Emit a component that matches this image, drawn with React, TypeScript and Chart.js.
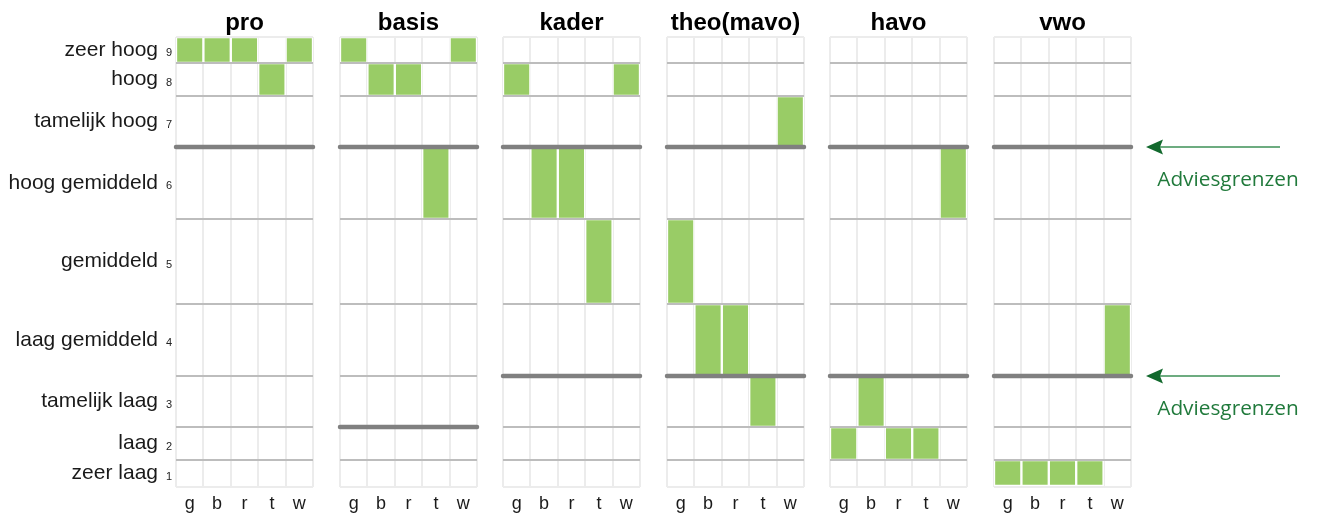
import React, { useEffect, useRef } from 'react';
import { Chart, registerables } from 'chart.js';

Chart.register(...registerables);

// ---------- data ----------
const categories = ['g', 'b', 'r', 't', 'w'];
const panelTitles = ['pro', 'basis', 'kader', 'theo(mavo)', 'havo', 'vwo'];
const levelNames = ['zeer laag', 'laag', 'tamelijk laag', 'laag gemiddeld', 'gemiddeld', 'hoog gemiddeld', 'tamelijk hoog', 'hoog', 'zeer hoog'];
const levelNumbers = ['1', '2', '3', '4', '5', '6', '7', '8', '9'];
// relative height of each level band (bottom to top)
const bandHeights = [27, 33, 51, 72, 85, 72, 51, 33, 26];

const proLevels = [9, 9, 9, 8, 9];
const basisLevels = [9, 8, 8, 6, 9];
const kaderLevels = [8, 6, 6, 5, 8];
const theoLevels = [5, 4, 4, 3, 7];
const havoLevels = [2, 3, 2, 2, 6];
const vwoLevels = [1, 1, 1, 1, 4];

// advice boundaries: boundary lies above the given level
const proAdvies = [6];
const basisAdvies = [2, 6];
const kaderAdvies = [3, 6];
const theoAdvies = [3, 6];
const havoAdvies = [3, 6];
const vwoAdvies = [3, 6];

const annotationLabel = 'Adviesgrenzen';

const panelLevels = [proLevels, basisLevels, kaderLevels, theoLevels, havoLevels, vwoLevels];
const panelAdvies = [proAdvies, basisAdvies, kaderAdvies, theoAdvies, havoAdvies, vwoAdvies];

// ---------- derived scale values ----------
const bounds: number[] = [0];
bandHeights.forEach((h, i) => bounds.push(bounds[i] + h));
const yMax = bounds[bounds.length - 1];
const mids = bandHeights.map((h, i) => bounds[i] + h / 2);
const gridTicks: number[] = [];
bounds.forEach((b, i) => {
  gridTicks.push(b);
  if (i < mids.length) gridTicks.push(mids[i]);
});

// ---------- style ----------
const FONT = '"Liberation Sans", Arial, Helvetica, sans-serif';
const GREEN = '#99cc66';
const H = 513;
const PANEL_W = 137;
const PANEL_STEP = 163.6;
const FIRST_LEFT = 176;

function geometry(i: number) {
  const panelLeft = Math.round(FIRST_LEFT + i * PANEL_STEP);
  if (i === 0) {
    return { left: 0, width: panelLeft + PANEL_W + 17, padL: 0, padR: 17 };
  }
  const left = panelLeft - 6;
  if (i === panelTitles.length - 1) {
    const width = 1322 - left;
    return { left, width, padL: 6, padR: width - 6 - PANEL_W };
  }
  return { left, width: PANEL_W + 12, padL: 6, padR: 6 };
}

const arrowPlugin = {
  id: 'adviesArrows',
  afterDraw(chart: any) {
    const { ctx, chartArea, scales } = chart;
    const ys = scales.y;
    vwoAdvies.forEach((k) => {
      const y = ys.getPixelForValue(bounds[k]);
      const tip = chartArea.right + 15;
      const end = chartArea.right + 149;
      ctx.save();
      ctx.strokeStyle = '#3d9156';
      ctx.lineWidth = 1.5;
      ctx.beginPath();
      ctx.moveTo(tip + 12, y);
      ctx.lineTo(end, y);
      ctx.stroke();
      ctx.fillStyle = '#12692d';
      ctx.beginPath();
      ctx.moveTo(tip, y);
      ctx.lineTo(tip + 17, y - 7.5);
      ctx.lineTo(tip + 14, y);
      ctx.lineTo(tip + 17, y + 7.5);
      ctx.closePath();
      ctx.fill();
      ctx.font = '20.8px "Open Sans", "Noto Sans", sans-serif';
      ctx.fillStyle = '#217a3c';
      ctx.textAlign = 'center';
      ctx.textBaseline = 'alphabetic';
      ctx.fillText(annotationLabel, chartArea.right + 97, y + 39);
      ctx.restore();
    });
  },
};

function buildConfig(i: number, geo: ReturnType<typeof geometry>): any {
  const levels = panelLevels[i];
  const advies = panelAdvies[i];
  const first = i === 0;
  const last = i === panelTitles.length - 1;

  const datasets: any[] = [
    {
      type: 'bar',
      data: levels.map((l) => [bounds[l - 1], bounds[l]]),
      backgroundColor: GREEN,
      borderColor: '#ffffff',
      borderWidth: 1.5,
      borderSkipped: false,
      barPercentage: 1,
      categoryPercentage: 1,
      grouped: false,
      xAxisID: 'x',
      yAxisID: 'y',
      order: 1,
    },
  ];
  advies.forEach((k) => {
    datasets.push({
      type: 'line',
      data: [
        { x: 0, y: bounds[k] },
        { x: 1, y: bounds[k] },
      ],
      xAxisID: 'xLine',
      yAxisID: 'y',
      borderColor: '#808080',
      borderWidth: 4.5,
      borderCapStyle: 'round',
      pointRadius: 0,
      clip: false,
      order: 0,
    });
  });

  const scales: any = {
    x: {
      type: 'category',
      position: 'bottom',
      offset: true,
      grid: { offset: true, color: '#ececec', lineWidth: 2, drawTicks: false, z: -1 },
      border: { display: false },
      ticks: { font: { family: FONT, size: 18 }, color: '#1a1a1a', padding: 6, autoSkip: false, maxRotation: 0 },
      afterFit: (s: any) => {
        s.height = 26;
      },
    },
    xTop: {
      type: 'linear',
      position: 'top',
      min: 0,
      max: 1,
      offset: false,
      ticks: { display: false },
      grid: { display: false, drawTicks: false },
      border: { display: false },
      title: {
        display: true,
        text: panelTitles[i],
        font: { family: FONT, size: 24, weight: 'bold' },
        color: '#000000',
        padding: { top: 9, bottom: 0 },
      },
      afterFit: (s: any) => {
        s.height = 37;
      },
    },
    xLine: { type: 'linear', min: 0, max: 1, offset: false, display: false },
    y: {
      type: 'linear',
      position: 'left',
      min: 0,
      max: yMax,
      weight: 0,
      afterBuildTicks: (s: any) => {
        s.ticks = gridTicks.map((v) => ({ value: v }));
      },
      ticks: {
        display: first,
        autoSkip: false,
        padding: 4,
        font: { family: FONT, size: 11, lineHeight: '6px' },
        color: '#222222',
        callback: (_v: any, idx: number) => (idx % 2 === 1 ? ['', levelNumbers[(idx - 1) / 2]] : ''),
      },
      grid: {
        z: 1,
        drawTicks: false,
        lineWidth: (ctx: any) => (ctx.index % 2 === 0 ? 2 : 0),
        color: (ctx: any) => {
          if (ctx.index % 2 === 1) return 'rgba(0,0,0,0)';
          const k = ctx.index / 2;
          if (k === 0 || k === bandHeights.length) return '#ececec';
          if (advies.includes(k)) return 'rgba(0,0,0,0)';
          return '#bdbdbd';
        },
      },
      border: { display: false },
      afterFit: (s: any) => {
        s.width = first ? 16 : 0;
      },
    },
  };

  if (first) {
    scales.yNames = {
      type: 'linear',
      position: 'left',
      min: 0,
      max: yMax,
      weight: 1,
      afterBuildTicks: (s: any) => {
        s.ticks = mids.map((v) => ({ value: v }));
      },
      ticks: {
        autoSkip: false,
        padding: 2,
        font: { family: FONT, size: 21 },
        color: '#1a1a1a',
        callback: (_v: any, idx: number) => levelNames[idx],
      },
      grid: { display: false, drawTicks: false },
      border: { display: false },
      afterFit: (s: any) => {
        s.width = FIRST_LEFT - 16;
      },
    };
  }

  return {
    type: 'bar',
    data: { labels: categories, datasets },
    options: {
      responsive: false,
      animation: false,
      devicePixelRatio: 1,
      layout: { padding: { left: geo.padL, right: geo.padR, top: 0, bottom: 0 } },
      plugins: { legend: { display: false }, tooltip: { enabled: false }, title: { display: false } },
      scales,
    },
    plugins: last ? [arrowPlugin] : [],
  };
}

function Panel({ index }: { index: number }) {
  const ref = useRef<HTMLCanvasElement>(null);
  const geo = geometry(index);
  useEffect(() => {
    const chart = new Chart(ref.current as HTMLCanvasElement, buildConfig(index, geo));
    return () => chart.destroy();
  }, []);
  return (
    <canvas
      ref={ref}
      width={geo.width}
      height={H}
      style={{ position: 'absolute', left: geo.left, top: 0, width: geo.width, height: H }}
    />
  );
}

export default function App() {
  return (
    <div style={{ position: 'absolute', left: 0, top: 0, width: 1322, height: H, background: '#ffffff' }}>
      {panelTitles.map((_t, i) => (
        <Panel key={i} index={i} />
      ))}
    </div>
  );
}
